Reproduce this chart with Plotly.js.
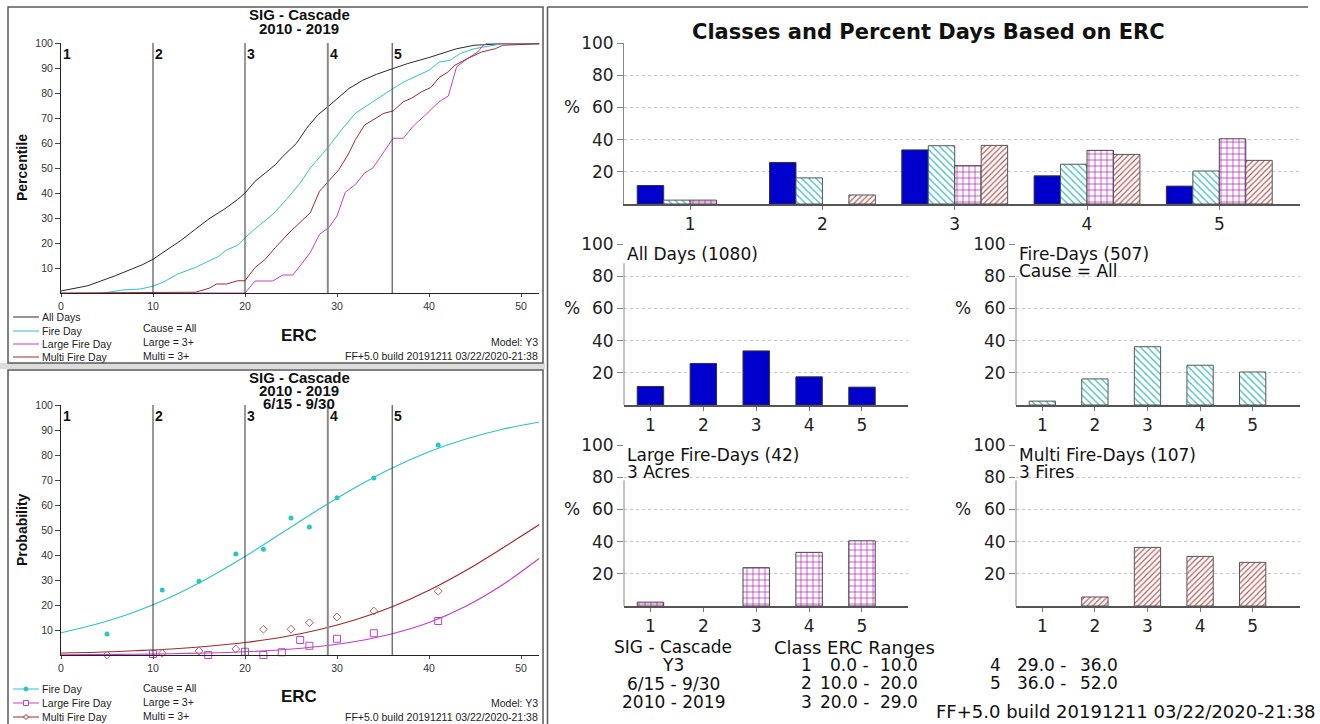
<!DOCTYPE html>
<html><head><meta charset="utf-8">
<script src="https://cdn.plot.ly/plotly-3.0.1.min.js"></script>
<style>html,body{margin:0;padding:0;background:#fff;overflow:hidden}#chart{width:1320px;height:724px;}</style>
</head><body><div id="chart"></div>
<script>
// ---------------- DATA ----------------
const station = 'SIG - Cascade';
const model = 'Y3';
const years = '2010 - 2019';
const season = '6/15 - 9/30';
const buildTxt = 'FF+5.0 build 20191211 03/22/2020-21:38';
const classIds = [1, 2, 3, 4, 5];
const ercLow  = [0, 10, 20, 29, 36];
const ercHigh = [10, 20, 29, 36, 52];
const seriesNames = ['All Days', 'Fire Day', 'Large Fire Day', 'Multi Fire Day'];

// Percentile curves (top-left)
const allDaysX = [0, 2.9, 5.9, 7.8, 8.9, 10, 11.2, 13.1, 14.6, 16.1, 17.7, 19.2, 20, 21.1, 22.2, 23.3, 24.1, 25.6, 26.7, 27.9, 29.1, 30.2, 31.3, 32.8, 34.3, 36.1, 37.7, 40, 41.5, 43, 44.9, 48, 52];
const allDaysY = [0.8, 2.9, 6.9, 9.8, 11.4, 13.5, 16.6, 21.2, 25.5, 29.7, 33.4, 37.4, 40, 44.7, 48, 51.3, 54.6, 59.9, 65.9, 71.2, 74.8, 78.5, 81.8, 85.1, 87.5, 89.8, 91.8, 94.2, 96, 97.7, 99.1, 99.7, 99.7];
const fireDayX = [4.6, 6.7, 8.6, 10, 11.2, 12.7, 14.6, 16.1, 17.1, 18, 19.2, 20, 21.1, 23, 24.5, 26, 27.1, 29.1, 30.5, 32, 33.6, 36.1, 37.3, 38.9, 40, 41.1, 42.3, 43.4, 44.9, 46.4, 48, 52];
const fireDayY = [0, 1.2, 1.6, 2.7, 4.5, 7.6, 10.2, 12.9, 14.6, 17.2, 19.1, 22.1, 25.7, 31.4, 37.4, 44, 50, 58.6, 65.3, 71.9, 75.9, 81.8, 84.5, 87.1, 89.1, 92.4, 93.1, 95.8, 97.7, 98.7, 99.7, 99.7];
const largeDayX = [14, 20, 21.1, 23, 24.1, 25.2, 26, 26.7, 27.1, 28.1, 29.1, 30, 30.9, 32, 33, 33.9, 35.1, 36.1, 37.2, 38.3, 39.6, 41.1, 42.1, 43, 44.2, 45.3, 45.9, 46.4, 52];
const largeDayY = [0, 0, 4.8, 4.8, 7.2, 7.2, 10.9, 14.6, 16.2, 23.5, 26.1, 30.8, 40.3, 43.4, 48, 50, 56.6, 61.9, 61.9, 66.8, 71.2, 76.5, 78.8, 90.5, 93.8, 96.4, 99.1, 100, 100];
const multiDayX = [0, 14.6, 16.1, 16.9, 18, 19.2, 20, 21.1, 22.2, 23.3, 24.8, 26, 27.1, 28.1, 29.1, 30.2, 31.3, 32, 33, 34.3, 35.1, 36.1, 37.2, 38.1, 39.2, 40.2, 41.1, 42.1, 42.8, 44.2, 45.7, 47.2, 48, 52];
const multiDayY = [0, 0.3, 1.9, 3.6, 3.6, 4.9, 4.9, 10.2, 13.5, 18.2, 24.1, 28.4, 32.1, 40.7, 44.7, 49.3, 56, 61.3, 67.2, 69.9, 71.9, 72.8, 76.5, 77.9, 80.5, 82.2, 86.2, 88.5, 91.1, 93.8, 96.4, 97.7, 99.1, 99.7];

const fireObsX = [5, 11, 15, 19, 22, 25, 27, 30, 34, 41];
const fireObsY = [8.4, 26, 29.5, 40.4, 42.3, 54.8, 51.2, 62.9, 70.8, 84];
const largeObsX = [10, 16, 20, 22, 24, 26, 27, 30, 34, 41];
const largeObsY = [0.4, 0, 1.3, 0, 1.1, 6.0, 3.7, 6.5, 8.7, 13.6];
const multiObsX = [5, 11, 15, 19, 22, 25, 27, 30, 34, 41];
const multiObsY = [0, 0.7, 1.6, 2.4, 10.3, 10.3, 12.9, 15.2, 17.6, 25.5];
const fitX     = [0, 4, 8, 12, 16, 20, 24, 28, 32, 36, 40, 44, 48, 52];
const fireFit  = [8.9, 12.5, 17.2, 23.3, 30.8, 39.4, 48.8, 58.2, 67.0, 74.8, 81.3, 86.4, 90.3, 93.2];
const largeFit = [0.1, 0.2, 0.3, 0.5, 0.8, 1.3, 2.1, 3.4, 5.4, 8.5, 13.0, 19.5, 28.1, 38.7];
const multiFit = [0.8, 1.1, 1.7, 2.4, 3.5, 5.0, 7.1, 10.1, 14.1, 19.3, 25.9, 33.8, 42.8, 52.2];

// Percent days per class (right)
const pctAll   = [11.5, 25.8, 33.6, 17.5, 11.1];
const pctFire  = [2.4, 16.2, 36.2, 24.7, 20.5];
const pctLarge = [2.4, 0, 23.8, 33.3, 40.5];
const pctMulti = [0, 5.6, 36.4, 30.8, 27.1];
const smallTitles = [['All Days (1080)'], ['Fire-Days (507)', 'Cause = All'], ['Large Fire-Days (42)', '3 Acres'], ['Multi Fire-Days (107)', '3 Fires']];
const leftNotes = ['Cause = All', 'Large = 3+', 'Multi = 3+'];

// ---------------- STYLE / LAYOUT ----------------
const W = 1320, H = 724;
const px = v => v / W;
const py = v => 1 - v / H;
const cAll = '#2a2a2a', cFire = '#2ec4c4', cLarge = '#c040c8', cMulti = '#a02a2a', cBlue = '#0000cc';
const ARIAL = 'Liberation Sans, Arial, sans-serif';
const DJV = 'DejaVu Sans, sans-serif';

const traces = [];
const pctSeries = [[allDaysX, allDaysY, cAll], [fireDayX, fireDayY, cFire], [largeDayX, largeDayY, cLarge], [multiDayX, multiDayY, cMulti]];
pctSeries.forEach((s, i) => traces.push({type: 'scatter', mode: 'lines', x: s[0], y: s[1], xaxis: 'x', yaxis: 'y', name: seriesNames[i], line: {color: s[2], width: 1}, showlegend: false}));
traces.push({type: 'scatter', mode: 'lines', x: fitX, y: fireFit, xaxis: 'x2', yaxis: 'y2', line: {color: cFire, width: 1.2, shape: 'spline'}, showlegend: false});
traces.push({type: 'scatter', mode: 'lines', x: fitX, y: largeFit, xaxis: 'x2', yaxis: 'y2', line: {color: cLarge, width: 1.2, shape: 'spline'}, showlegend: false});
traces.push({type: 'scatter', mode: 'lines', x: fitX, y: multiFit, xaxis: 'x2', yaxis: 'y2', line: {color: cMulti, width: 1.2, shape: 'spline'}, showlegend: false});
traces.push({type: 'scatter', mode: 'markers', x: fireObsX, y: fireObsY, xaxis: 'x2', yaxis: 'y2', marker: {symbol: 'circle', size: 5, color: cFire}, showlegend: false, cliponaxis: false});
traces.push({type: 'scatter', mode: 'markers', x: largeObsX, y: largeObsY, xaxis: 'x2', yaxis: 'y2', marker: {symbol: 'square-open', size: 7, color: cLarge, line: {width: 1}}, showlegend: false, cliponaxis: false});
traces.push({type: 'scatter', mode: 'markers', x: multiObsX, y: multiObsY, xaxis: 'x2', yaxis: 'y2', marker: {symbol: 'diamond-open', size: 6, color: '#b86060', line: {width: 1}}, showlegend: false, cliponaxis: false});

// bars
const barStyle = (kind, vals) => {
  const lw = vals.map(v => (v > 0 ? 1 : 0));
  const s = {
    all:   {color: cBlue, line: {color: '#333', width: lw}},
    fire:  {color: 'white', line: {color: '#555', width: lw}, pattern: {shape: '\\', fgcolor: '#3cbcbc', bgcolor: 'white', size: 5, solidity: 0.25, fillmode: 'replace'}},
    large: {color: 'white', line: {color: '#444', width: lw}, pattern: {shape: '+', fgcolor: '#b818b8', bgcolor: 'white', size: 6, solidity: 0.22, fillmode: 'replace'}},
    multi: {color: 'white', line: {color: '#555', width: lw}, pattern: {shape: '/', fgcolor: '#b85858', bgcolor: 'white', size: 4, solidity: 0.3, fillmode: 'replace'}}
  };
  return s[kind];
};
const barData = [[pctAll, 'all'], [pctFire, 'fire'], [pctLarge, 'large'], [pctMulti, 'multi']];
barData.forEach(b => traces.push({type: 'bar', x: classIds, y: b[0], xaxis: 'x3', yaxis: 'y3', marker: barStyle(b[1], b[0]), showlegend: false, hoverinfo: 'none'}));
barData.forEach((b, i) => traces.push({type: 'bar', x: classIds, y: b[0], width: 0.5, xaxis: 'x' + (4 + i), yaxis: 'y' + (4 + i), marker: barStyle(b[1], b[0]), showlegend: false, hoverinfo: 'none'}));

// axes
const leftX = (dom, anchor) => ({domain: dom, anchor: anchor, range: [0, 52], tickvals: [0, 10, 20, 30, 40, 50], ticks: 'outside', ticklen: 3, tickcolor: '#444', showline: true, linecolor: '#222', linewidth: 1, showgrid: false, zeroline: false, tickfont: {family: ARIAL, size: 10.5, color: '#333'}});
const leftY = (dom, anchor) => ({domain: dom, anchor: anchor, range: [0, 100], tickvals: [10, 20, 30, 40, 50, 60, 70, 80, 90, 100], ticks: 'outside', ticklen: 5, tickcolor: '#444', showline: true, linecolor: '#222', linewidth: 1, showgrid: false, zeroline: false, tickfont: {family: ARIAL, size: 10.5, color: '#333'}});
const rX = (dom, anchor, r) => ({domain: dom, anchor: anchor, range: r, tickvals: classIds, ticks: 'outside', ticklen: 4, tickcolor: '#777', showline: true, linecolor: '#555', linewidth: 1.5, showgrid: false, zeroline: false, tickfont: {family: DJV, size: 17, color: '#222'}});
const rY = (dom, anchor, line) => ({domain: dom, anchor: anchor, range: [0, 100], tickvals: [20, 40, 60, 80, 100], ticks: 'outside', ticklen: 6, tickcolor: '#888', showline: line, linecolor: '#888', linewidth: 1, showgrid: true, gridcolor: '#c8c8c8', griddash: 'dot', gridwidth: 1, zeroline: false, tickfont: {family: DJV, size: 17, color: '#222'}});

const xl0 = px(61), xl1 = px(539.4);
const rows = {tl: [py(293), py(43)], bl: [py(655), py(405)], rt: [py(204), py(43)], r1: [py(405), py(244)], r2: [py(606), py(445)]};
const colA = [px(624), px(908)], colB = [px(1016), px(1300)];

const layout = {
  width: W, height: H, margin: {l: 0, r: 0, t: 0, b: 0}, paper_bgcolor: 'white', plot_bgcolor: 'rgba(0,0,0,0)',
  showlegend: false, barmode: 'group', bargap: 0.2, bargroupgap: 0,
  xaxis: leftX([xl0, xl1], 'y'), yaxis: leftY(rows.tl, 'x'),
  xaxis2: leftX([xl0, xl1], 'y2'), yaxis2: leftY(rows.bl, 'x2'),
  xaxis3: rX([px(624), px(1300)], 'y3', [0.5, 5.61]), yaxis3: rY(rows.rt, 'x3', true),
  xaxis4: rX(colA, 'y4', [0.5, 5.87]), yaxis4: rY(rows.r1, 'x4', false),
  xaxis5: rX(colB, 'y5', [0.5, 5.9]), yaxis5: rY(rows.r1, 'x5', false),
  xaxis6: rX(colA, 'y6', [0.5, 5.87]), yaxis6: rY(rows.r2, 'x6', false),
  xaxis7: rX(colB, 'y7', [0.5, 5.9]), yaxis7: rY(rows.r2, 'x7', false),
  shapes: [], annotations: []
};

const S = layout.shapes, A = layout.annotations;
const pline = (x0, y0, x1, y1, color, w) => S.push({type: 'line', xref: 'paper', yref: 'paper', x0: px(x0), y0: py(y0), x1: px(x1), y1: py(y1), line: {color: color, width: w}, layer: 'above'});
const ann = (text, x, y, o) => A.push(Object.assign({text: text, xref: 'paper', yref: 'paper', x: px(x), y: py(y), xanchor: 'center', yanchor: 'middle', showarrow: false, font: {family: ARIAL, size: 10.5, color: '#222'}}, o || {}));

// panel frames
S.push({type: 'rect', xref: 'paper', yref: 'paper', x0: px(0), x1: px(545), y0: py(369), y1: py(363), fillcolor: '#dcdcdc', line: {width: 0}, layer: 'below'});
S.push({type: 'rect', xref: 'paper', yref: 'paper', x0: px(8), x1: px(543), y0: py(363), y1: py(7), line: {color: '#5a5a5a', width: 1.5}, fillcolor: 'rgba(0,0,0,0)'});
S.push({type: 'rect', xref: 'paper', yref: 'paper', x0: px(8), x1: px(543), y0: py(726), y1: py(370), line: {color: '#5a5a5a', width: 1.5}, fillcolor: 'rgba(0,0,0,0)'});
pline(547.5, 7, 547.5, 724, '#5a5a5a', 1.5);
pline(547.5, 7, 1308, 7, '#5a5a5a', 1.5);

// class boundary lines + class labels on left panels
[['x', 'y'], ['x2', 'y2']].forEach(ax => {
  ercLow.forEach((v, i) => {
    if (i > 0) S.push({type: 'line', xref: ax[0], yref: ax[1], x0: v, x1: v, y0: 0, y1: 100, line: {color: v === 29 ? '#8a8a8a' : '#333', width: v === 29 ? 2 : 1}});
    A.push({text: '<b>' + classIds[i] + '</b>', xref: ax[0], yref: ax[1], x: v, y: 100, xanchor: 'left', yanchor: 'top', xshift: 0, yshift: -1, showarrow: false, font: {family: ARIAL, size: 14, color: '#111'}});
  });
});

// left titles
const tf = {family: ARIAL, size: 15, color: '#111'};
ann('<b>' + station + '</b>', 299, 15, {font: tf});
ann('<b>' + years + '</b>', 299, 28.5, {font: tf});
ann('<b>' + station + '</b>', 299, 377, {font: tf});
ann('<b>' + years + '</b>', 299, 390, {font: tf});
ann('<b>' + season + '</b>', 299, 403, {font: tf});
ann('<b>Percentile</b>', 22, 168, {textangle: -90, font: {family: ARIAL, size: 14, color: '#111'}});
ann('<b>Probability</b>', 22, 530, {textangle: -90, font: {family: ARIAL, size: 14, color: '#111'}});
ann('<b>ERC</b>', 299, 335, {font: {family: ARIAL, size: 17, color: '#111'}});
ann('<b>ERC</b>', 299, 696, {font: {family: ARIAL, size: 17, color: '#111'}});

// left legends and notes
const legColors = [cAll, cFire, cLarge, cMulti];
[317, 331, 344, 357].forEach((yy, i) => {
  pline(13, yy, 39, yy, legColors[i], 1);
  ann(seriesNames[i], 40, yy, {xanchor: 'left'});
});
[689, 703, 717].forEach((yy, i) => {
  const c = legColors[i + 1];
  pline(13, yy, 39, yy, c, 1);
  ann(seriesNames[i + 1], 40, yy, {xanchor: 'left'});
  if (i === 0) S.push({type: 'circle', xref: 'paper', yref: 'paper', x0: px(24), x1: px(28), y0: py(691), y1: py(687), fillcolor: c, line: {color: c, width: 1}});
  if (i === 1) S.push({type: 'rect', xref: 'paper', yref: 'paper', x0: px(23.5), x1: px(28.5), y0: py(705.5), y1: py(700.5), fillcolor: 'white', line: {color: c, width: 1}});
  if (i === 2) S.push({type: 'path', xref: 'paper', yref: 'paper', path: 'M' + px(26) + ',' + py(714.5) + 'L' + px(28.5) + ',' + py(717) + 'L' + px(26) + ',' + py(719.5) + 'L' + px(23.5) + ',' + py(717) + 'Z', fillcolor: 'white', line: {color: c, width: 1}});
});
[[328, 342, 356], [688, 702, 716]].forEach(ys => {
  ys.forEach((yy, i) => ann(leftNotes[i], 141, yy, {xanchor: 'left'}));
});
[[342, 356], [703, 717]].forEach(ys => {
  ann('Model: ' + model, 540, ys[0], {xanchor: 'right'});
  ann(buildTxt, 540, ys[1], {xanchor: 'right'});
});

// right panel texts
ann('<b>Classes and Percent Days Based on ERC</b>', 928, 32, {font: {family: DJV, size: 21, color: '#111'}});
const rf = {family: DJV, size: 17, color: '#222'};
[['y3', 572], ['y4', 572], ['y5', 963], ['y6', 572], ['y7', 963]].forEach(p => A.push({text: '%', xref: 'paper', yref: p[0], x: px(p[1]), y: 60, xanchor: 'center', yanchor: 'middle', showarrow: false, font: rf}));
const tpos = [[625, 254], [1017, 254], [625, 455], [1017, 455]];
smallTitles.forEach((t, i) => t.forEach((line, j) => ann(line, tpos[i][0], tpos[i][1] + 17 * j, {xanchor: 'left', font: {family: DJV, size: 17, color: '#111'}})));
[['x4', 'y4', 88], ['x5', 'y5', 79], ['x6', 'y6', 78], ['x7', 'y7', 78]].forEach(a => S.push({type: 'line', xref: a[0] + ' domain', yref: a[1], x0: 0, x1: 0, y0: 0, y1: a[2], line: {color: '#888', width: 1}}));

// bottom info block
const bf = {family: DJV, size: 17, color: '#111'};
[station, model, season, years].forEach((t, i) => ann(t, 673, 647 + 18.3 * i, {font: bf}));
ann('Class ERC Ranges', 772, 647, {xanchor: 'left', font: {family: DJV, size: 18, color: '#111'}});
classIds.forEach((c, i) => {
  const col = i < 3 ? {n: 806, lo: 871, hi: 878} : {n: 995, lo: 1068, hi: 1078};
  const yy = 665 + 18.3 * (i < 3 ? i : i - 3);
  ann(String(c), col.n, yy, {font: bf});
  ann(ercLow[i].toFixed(1) + ' -', col.lo, yy, {xanchor: 'right', font: bf});
  ann(ercHigh[i].toFixed(1), col.hi, yy, {xanchor: 'left', font: bf});
});
ann(buildTxt, 1318, 711, {xanchor: 'right', font: {family: DJV, size: 18, color: '#111'}});

Plotly.newPlot('chart', traces, layout, {staticPlot: true, displayModeBar: false});
</script></body></html>
